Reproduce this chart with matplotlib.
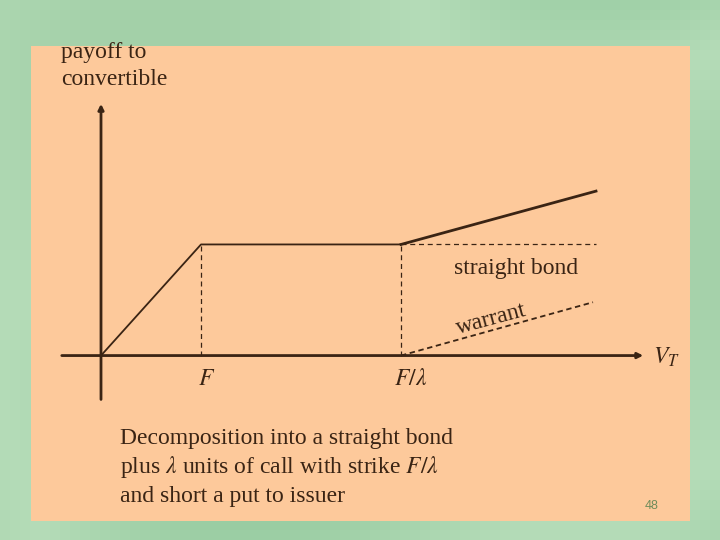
import numpy as np
from matplotlib import pyplot as plt
from matplotlib.patches import Rectangle

plt.rcParams['font.family'] = ['Liberation Serif', 'DejaVu Serif']
plt.rcParams['mathtext.fontset'] = 'stix'

# payoff pieces (x in units of F, y in units of bond face value)
strike_F = 1.0
strike_conv = 3.0
x_end = 4.95
bond = 1.0
conv_end = 1.48
warrant_x_end = 4.92
warrant_end = 0.48

conv_x = [0, strike_F, strike_conv, x_end]
conv_y = [0, bond, bond, conv_end]

caption = ['Decomposition into a straight bond',
           'plus $\\lambda$ units of call with strike $F/\\lambda$',
           'and short a put to issuer']

ink = '#3a2414'
peach = '#fdc99b'

fig = plt.figure(figsize=(7.2, 5.4), dpi=100)

# green slide background
bg = fig.add_axes([0, 0, 1, 1])
gx, gy = np.meshgrid(np.linspace(0, 1, 72), np.linspace(0, 1, 54))
shade = 0.5 + 0.25 * np.sin(6 * gx + 3 * gy) + 0.25 * np.cos(5 * gy - 2 * gx)
bg.imshow(shade, cmap=plt.matplotlib.colors.LinearSegmentedColormap.from_list(
    'g', ['#8fc79a', '#b5dcb8', '#a3d0a8']), aspect='auto', extent=[0, 1, 0, 1])
bg.add_patch(Rectangle((31 / 720, 1 - 521 / 540), 659 / 720, 475 / 540,
                       facecolor=peach, edgecolor='none'))
bg.set_xlim(0, 1)
bg.set_ylim(0, 1)
bg.axis('off')

# chart axes in data units, origin at the axis crossing
ax = fig.add_axes([0, 0, 1, 1])
ax.set_xlim(-1.01, 6.19)
ax.set_ylim(-1.66, 3.2)
ax.axis('off')
ax.patch.set_alpha(0)

# axes with arrow heads
ax.annotate('', xy=(5.45, 0), xytext=(-0.42, 0),
            arrowprops=dict(arrowstyle='-|>', color=ink, lw=2, mutation_scale=8))
ax.annotate('', xy=(0, 2.29), xytext=(0, -0.42),
            arrowprops=dict(arrowstyle='-|>', color=ink, lw=2, mutation_scale=8))

# convertible payoff
ax.plot(conv_x[:3], conv_y[:3], color=ink, lw=1.3)
ax.plot(conv_x[2:], conv_y[2:], color=ink, lw=2)

# decomposition guides
ax.plot([strike_F, strike_F], [0, bond], color=ink, lw=0.9, ls=(0, (4, 3)))
ax.plot([strike_conv, strike_conv], [0, bond], color=ink, lw=0.9, ls=(0, (4, 3)))
ax.plot([strike_conv, x_end], [bond, bond], color=ink, lw=0.9, ls=(0, (4, 3)))
ax.plot([strike_conv, warrant_x_end], [0, warrant_end], color=ink, lw=1.3, ls=(0, (3, 2)))

fs = 17
ax.text(strike_F + 0.06, -0.12, '$F$', fontsize=fs, color=ink, ha='center', va='top')
ax.text(strike_conv + 0.1, -0.12, '$F/\\lambda$', fontsize=fs, color=ink, ha='center', va='top')
ax.text(5.52, -0.02, '$V_T$', fontsize=fs, color=ink, ha='left', va='center')
ax.text(4.15, 0.78, 'straight bond', fontsize=fs, color=ink, ha='center', va='center')
ax.text(3.9, 0.33, 'warrant', fontsize=fs, color=ink, ha='center', va='center', rotation=15)

fig.text(61 / 720, 1 - 58 / 540, 'payoff to', fontsize=fs, color=ink,
         ha='left', va='baseline')
fig.text(61 / 720, 1 - 85 / 540, 'convertible', fontsize=fs, color=ink,
         ha='left', va='baseline')

for i, line in enumerate(caption):
    fig.text(120 / 720, 1 - (444 + 29 * i) / 540, line, fontsize=fs, color=ink,
             ha='left', va='baseline')

fig.text(652 / 720, 1 - 506 / 540, '48', fontsize=9, color='#6f8c5a',
         ha='center', va='center', family='Liberation Sans')

fig.savefig('out.png', dpi=100)
